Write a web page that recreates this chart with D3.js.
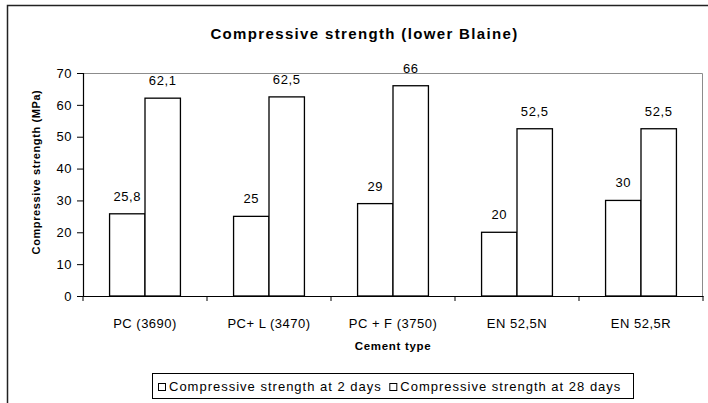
<!DOCTYPE html>
<html><head><meta charset="utf-8">
<script src="https://cdn.jsdelivr.net/npm/d3@7"></script>
<style>body{margin:0;background:#fff}svg{display:block;font-family:"Liberation Sans",Arial,sans-serif}</style>
</head><body><svg id="c" width="708" height="403"></svg>
<script>
const categories = ["PC (3690)", "PC+ L (3470)", "PC + F (3750)", "EN 52,5N", "EN 52,5R"];
const strength2d = [25.8, 25, 29, 20, 30];
const strength28d = [62.1, 62.5, 66, 52.5, 52.5];
const valueLabels2d = ["25,8", "25", "29", "20", "30"];
const valueLabels28d = ["62,1", "62,5", "66", "52,5", "52,5"];
const yTicks = [0, 10, 20, 30, 40, 50, 60, 70];
const seriesNames = ["Compressive strength at 2 days", "Compressive strength at 28 days"];

const FONT = "Liberation Sans, Arial, sans-serif";
const svg = d3.select("#c");
const L = 83, R = 703, T = 73, B = 296;

// outer frame (left + top)
svg.append("path").attr("d", `M7.5,403 V5.5 H708`).attr("fill","none").attr("stroke","#222").attr("stroke-width",1.5);

const x0 = d3.scaleBand().domain(categories).range([L, R]).padding(0);
// Excel gap width 150%: two bars + 1.5 bar widths of gap per category
const inner = d3.scaleBand().domain([0,1]).range([0, x0.bandwidth()]).paddingInner(0).paddingOuter(0.75);
const y = d3.scaleLinear().domain([0, 70]).range([B, T]);

// plot area border (gray top/right)
svg.append("path").attr("d", `M${L},${T+0.5} H${R-0.5} V${B}`).attr("fill","none").attr("stroke","#8c8c8c").attr("stroke-width",1);

// bars and value labels
const series = [strength2d, strength28d];
const labels = [valueLabels2d, valueLabels28d];
const g = svg.append("g");
series.forEach((vals, si) => {
  g.selectAll(null).data(categories).enter().append("rect")
    .attr("x", (d,i) => x0(d) + inner(si))
    .attr("y", (d,i) => y(vals[i]))
    .attr("width", inner.bandwidth())
    .attr("height", (d,i) => B - y(vals[i]))
    .attr("fill", "#fff").attr("stroke", "#000").attr("stroke-width", 1.3);
  g.selectAll(null).data(categories).enter().append("text")
    .attr("x", (d,i) => x0(d) + inner(si) + inner.bandwidth()/2)
    .attr("y", (d,i) => y(vals[i]) - 13)
    .attr("text-anchor","middle").attr("font-size",13).attr("letter-spacing",0.6)
    .text((d,i) => labels[si][i]);
});

// y axis
const ya = d3.axisLeft(y).tickValues(yTicks).tickSize(6).tickPadding(5).tickFormat(d3.format("d"));
const yg = svg.append("g").attr("transform",`translate(${L},0)`).call(ya);
yg.select(".domain").attr("stroke","#000").attr("stroke-width",1.2);
yg.selectAll(".tick line").attr("stroke","#000");
yg.selectAll("text").attr("font-size",13).attr("letter-spacing",0.5).attr("fill","#000").attr("font-family",FONT);

// x axis
const xa = d3.axisBottom(x0).tickSize(0).tickPadding(0);
const xg = svg.append("g").attr("transform",`translate(0,${B})`).call(xa);
xg.select(".domain").attr("stroke","#000").attr("stroke-width",1.2);
xg.selectAll("text").attr("dy",null).attr("y",32).attr("font-size",13).attr("letter-spacing",0.5).attr("fill","#000").attr("font-family",FONT);
// category boundary ticks
const bounds = categories.map(c => x0(c)).concat([x0.range()[1]]);
xg.selectAll(".bt").data(bounds).enter().append("line")
  .attr("x1", d => d).attr("x2", d => d).attr("y1", 0).attr("y2", 5).attr("stroke","#000");

// titles
svg.append("text").attr("x", 364.5).attr("y", 39).attr("text-anchor","middle")
  .attr("font-size",15).attr("font-weight","bold").attr("letter-spacing",1.35)
  .text("Compressive strength (lower Blaine)");
svg.append("text").attr("transform",`translate(39.5,172) rotate(-90)`).attr("text-anchor","middle")
  .attr("font-size",11).attr("font-weight","bold").attr("letter-spacing",0.6)
  .text("Compressive strength (MPa)");
svg.append("text").attr("x", (L+R)/2).attr("y", 350).attr("text-anchor","middle")
  .attr("font-size",11.5).attr("font-weight","bold").attr("letter-spacing",0.7)
  .text("Cement type");

// legend
const lg = svg.append("g");
lg.append("rect").attr("x",152.5).attr("y",373.5).attr("width",481).attr("height",25)
  .attr("fill","#fff").attr("stroke","#000").attr("stroke-width",1);
let lx = 158.5;
seriesNames.forEach((n, i) => {
  lg.append("rect").attr("x", lx).attr("y", 383.5).attr("width", 7).attr("height", 7)
    .attr("fill","#fff").attr("stroke","#000");
  const t = lg.append("text").attr("x", lx + 10.5).attr("y", 391).attr("font-size",13).attr("letter-spacing",1.0).text(n);
  lx += 10.5 + t.node().getComputedTextLength() + 8;
});
</script></body></html>
